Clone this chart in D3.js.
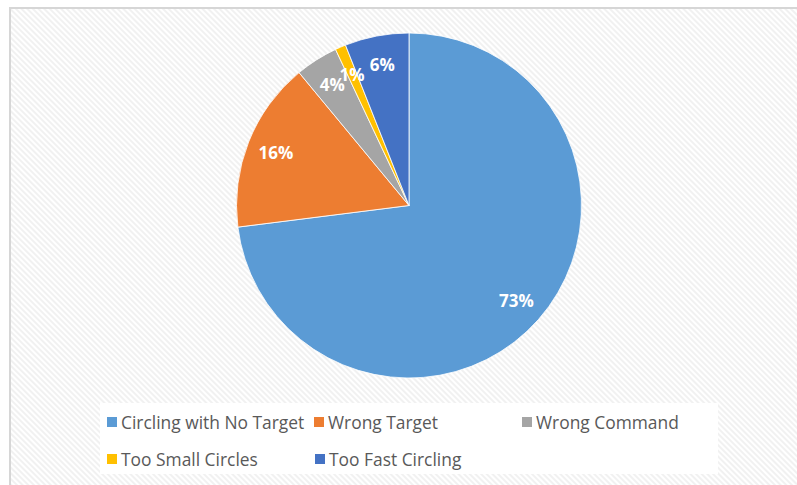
<!DOCTYPE html>
<html><head><meta charset="utf-8">
<script src="https://cdn.jsdelivr.net/npm/d3@7"></script>
<style>html,body{margin:0;padding:0;background:#fff;}svg{display:block;}</style>
</head><body>
<svg id="chart" width="797" height="485"></svg>
<script>
const categories = ["Circling with No Target", "Wrong Target", "Wrong Command", "Too Small Circles", "Too Fast Circling"];
const values = [73, 16, 4, 1, 6];
const labels = ["73%", "16%", "4%", "1%", "6%"];
const colors = ["#5B9BD5", "#ED7D31", "#A5A5A5", "#FFC000", "#4472C4"];

const svg = d3.select("#chart");
const defs = svg.append("defs");
const pat = defs.append("pattern").attr("id","hatch").attr("patternUnits","userSpaceOnUse")
  .attr("width",4).attr("height",4).attr("patternTransform","rotate(-45)");
pat.append("rect").attr("width",4).attr("height",4).attr("fill","#ffffff");
pat.append("rect").attr("width",2).attr("height",4).attr("fill","#f1f1f1");

svg.append("rect").attr("x",10).attr("y",8).attr("width",800).attr("height",490)
  .attr("fill","url(#hatch)").attr("stroke","#d6d6d6").attr("stroke-width",2);

const cx = 409, cy = 205.5, R = 172.5;
const pie = d3.pie().sort(null).value(d => d)(values);
const arc = d3.arc().innerRadius(0).outerRadius(R);
const labelArc = d3.arc().innerRadius(R*0.83).outerRadius(R*0.83);
const g = svg.append("g").attr("transform",`translate(${cx},${cy})`);
g.selectAll("path").data(pie).join("path")
  .attr("d", arc).attr("fill",(d,i)=>colors[i]).attr("stroke","#fff").attr("stroke-width",0.8);
g.selectAll("text").data(pie).join("text")
  .attr("transform", d => `translate(${labelArc.centroid(d)})`)
  .attr("text-anchor","middle").attr("dominant-baseline","central")
  .attr("font-family","'Open Sans', sans-serif").attr("font-weight","bold").attr("font-size",17)
  .attr("fill","#fff").text((d,i)=>labels[i]);

// legend
svg.append("rect").attr("x",100).attr("y",403).attr("width",618).attr("height",71).attr("fill","#fff");
const legPos = [[107,421.5],[314,421.5],[522,421.5],[107,458.5],[315,458.5]];
const lg = svg.append("g");
categories.forEach((c,i)=>{
  const [x,y] = legPos[i];
  lg.append("rect").attr("x",x).attr("y",y-4.5).attr("width",10).attr("height",10).attr("fill",colors[i]);
  lg.append("text").attr("x",x+14).attr("y",y).attr("dominant-baseline","central")
    .attr("font-family","'Open Sans', sans-serif").attr("font-size",17.4).attr("fill","#595959").text(c);
});
</script>
</body></html>
